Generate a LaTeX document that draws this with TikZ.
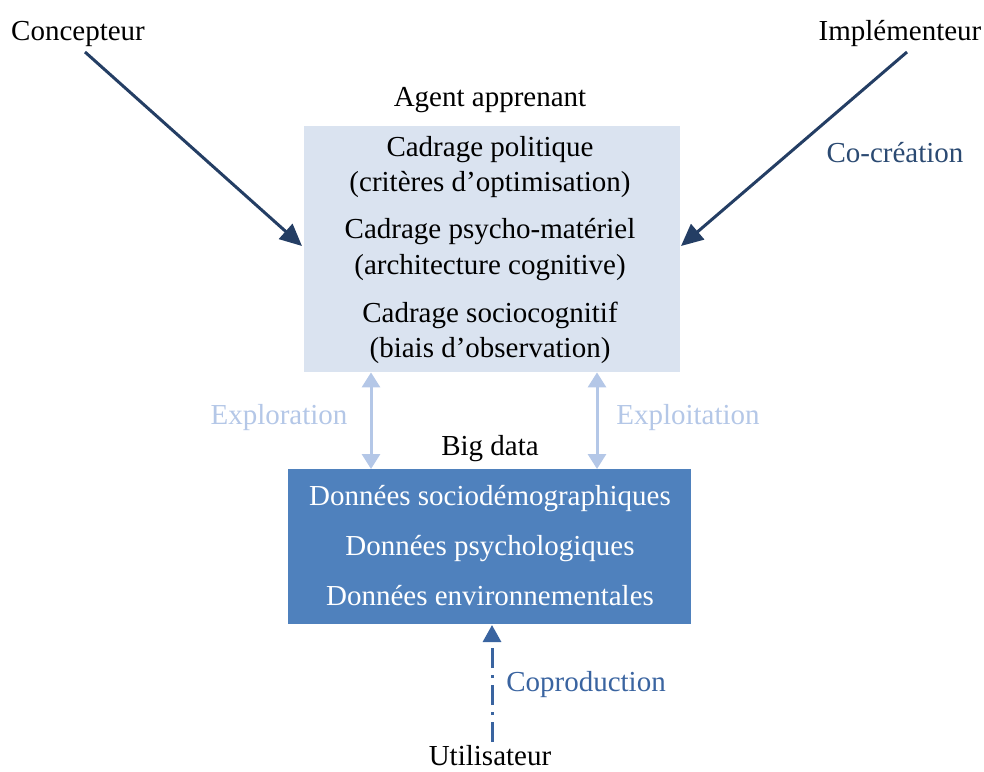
\documentclass[tikz,border=0pt]{standalone}
\usepackage{fontspec}
\setmainfont{Liberation Serif}
\usetikzlibrary{arrows.meta}
\definecolor{lightbox}{HTML}{DAE3F0}
\definecolor{darkbox}{HTML}{4F81BD}
\definecolor{navy}{HTML}{243E64}
\definecolor{cocrea}{HTML}{2B4A72}
\definecolor{lightarr}{HTML}{B4C7E7}
\definecolor{coprod}{HTML}{3A64A0}
\tikzset{
  lbl/.style={anchor=base, inner sep=0pt, font=\fontsize{29}{34}\selectfont},
  navyarrow/.style={draw=navy, line width=3pt, -{Triangle[length=22pt,width=20pt]}},
  lightarrow/.style={draw=lightarr, line width=3pt, {Triangle[length=15pt,width=18pt]}-{Triangle[length=15pt,width=18pt]}},
  coarrow/.style={draw=coprod, line width=3pt, dash pattern=on 20pt off 7pt on 3pt off 7pt, -{Triangle[length=17pt,width=18pt]}},
}
\begin{document}
\begin{tikzpicture}[x=1pt,y=-1pt]
\useasboundingbox (0,0) rectangle (984,771);
% boxes
\node[fill=lightbox, minimum width=376pt, minimum height=246pt, inner sep=0pt, anchor=north west] (agent) at (304,126) {};
\node[fill=darkbox, minimum width=403pt, minimum height=155pt, inner sep=0pt, anchor=north west] (big) at (288,469) {};
% outer labels
\node[lbl] (conc) at (78,40) {Concepteur};
\node[lbl] (impl) at (900,40) {Implémenteur};
\node[lbl] (agentlbl) at (490,106) {Agent apprenant};
\node[lbl] (biglbl) at (490,455) {Big data};
\node[lbl] (util) at (490,765) {Utilisateur};
\node[lbl, text=cocrea] (cocr) at (895,162) {Co-création};
\node[lbl, text=lightarr] (explo) at (279,424) {Exploration};
\node[lbl, text=lightarr] (exploi) at (688,424) {Exploitation};
\node[lbl, text=coprod] (coprodlbl) at (586,691) {Coproduction};
% box texts
\node[lbl] (t1) at (490,156) {Cadrage politique};
\node[lbl] (t2) at (490,191) {(critères d’optimisation)};
\node[lbl] (t3) at (490,238) {Cadrage psycho-matériel};
\node[lbl] (t4) at (490,274) {(architecture cognitive)};
\node[lbl] (t5) at (490,322) {Cadrage sociocognitif};
\node[lbl] (t6) at (490,357) {(biais d’observation)};
\node[lbl, text=white] (d1) at (490,505) {Données sociodémographiques};
\node[lbl, text=white] (d2) at (490,555) {Données psychologiques};
\node[lbl, text=white] (d3) at (490,605) {Données environnementales};
% connector endpoints
\coordinate (cs) at (85,52);
\coordinate (ce) at (302,246);
\coordinate (is) at (907,52);
\coordinate (ie) at (681,246);
\coordinate (ua) at (492,742);
\coordinate (ub) at (492,625);
% connectors
\draw[navyarrow] (cs) -- (ce);
\draw[navyarrow] (is) -- (ie);
\draw[lightarrow] (agent.south -| 371,0) -- (big.north -| 371,0);
\draw[lightarrow] (agent.south -| 597,0) -- (big.north -| 597,0);
\draw[coarrow] (ua) -- (ub);
\end{tikzpicture}
\end{document}
